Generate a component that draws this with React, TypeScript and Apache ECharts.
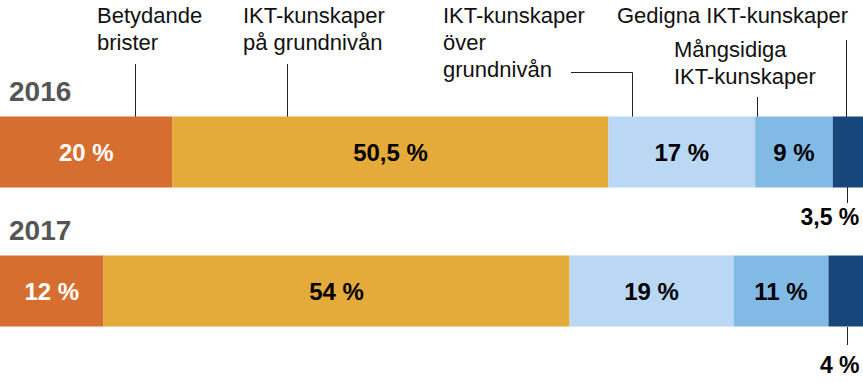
import React, { useEffect, useRef } from "react";
import * as echarts from "echarts";

const years = ["2016", "2017"];
const seriesNames = [
  "Betydande brister",
  "IKT-kunskaper på grundnivån",
  "IKT-kunskaper över grundnivån",
  "Mångsidiga IKT-kunskaper",
  "Gedigna IKT-kunskaper",
];
const values2016 = [20, 50.5, 17, 9, 3.5];
const values2017 = [12, 54, 19, 11, 4];
const colors = ["#D66E30", "#E4AB3A", "#BAD7F3", "#82BAE6", "#17467B"];
const labelColors = ["#FFFFFF", "#000000", "#000000", "#000000", "#000000"];

const FONT = "'Liberation Sans', Arial, Helvetica, sans-serif";

const fmt = (v: number) => String(v).replace(".", ",") + " %";

export default function App() {
  const ref = useRef<HTMLDivElement>(null);
  useEffect(() => {
    if (!ref.current) return;
    const chart = echarts.init(ref.current, undefined, { renderer: "svg" });
    const rows = [values2016, values2017];
    const series = seriesNames.map((name, si) => {
      const last = si === seriesNames.length - 1;
      return {
        name,
        type: "bar",
        stack: "total",
        barWidth: 71,
        itemStyle: { color: colors[si] },
        label: last
          ? {
              show: true,
              position: "bottom",
              fontFamily: FONT,
              fontWeight: "bold",
              fontSize: 23,
              color: "#000",
              formatter: (p: any) => fmt(p.value),
            }
          : {
              show: true,
              position: "inside",
              fontFamily: FONT,
              fontWeight: "bold",
              fontSize: 24,
              color: labelColors[si],
              formatter: (p: any) => fmt(p.value),
            },
        data: rows.map((r, ri) =>
          last
            ? {
                value: r[si],
                label: { offset: ri === 0 ? [-18, 13] : [-6, 22] },
              }
            : r[si]
        ),
      };
    });

    const textStyleTop = {
      fontFamily: FONT,
      fontSize: 22,
      lineHeight: 27,
      fill: "#111",
    };
    const line = (x1: number, y1: number, x2: number, y2: number) => ({
      type: "line",
      shape: { x1, y1, x2, y2 },
      style: { stroke: "#222", lineWidth: 1 },
      silent: true,
    });

    const graphic: any[] = [
      { type: "text", x: 97, y: 2, style: { ...textStyleTop, text: "Betydande\nbrister" } },
      { type: "text", x: 243, y: 2, style: { ...textStyleTop, text: "IKT-kunskaper\npå grundnivån" } },
      { type: "text", x: 443, y: 2, style: { ...textStyleTop, text: "IKT-kunskaper\növer\ngrundnivån" } },
      { type: "text", x: 617, y: 2, style: { ...textStyleTop, text: "Gedigna IKT-kunskaper" } },
      { type: "text", x: 674, y: 36, style: { ...textStyleTop, text: "Mångsidiga\nIKT-kunskaper" } },
      line(135.5, 64, 135.5, 117),
      line(287.5, 64, 287.5, 117),
      {
        type: "polyline",
        shape: { points: [[571, 72.5], [632.5, 72.5], [632.5, 117]] },
        style: { stroke: "#222", lineWidth: 1, fill: null },
        silent: true,
      },
      line(846.5, 40, 846.5, 117),
      line(757.5, 97, 757.5, 117),
      line(847.5, 187, 847.5, 203),
      line(847.5, 327, 847.5, 345),
      ...years.map((y, i) => ({
        type: "text",
        x: 9,
        y: 91 + i * 139,
        style: {
          text: y,
          fontFamily: FONT,
          fontWeight: "bold",
          fontSize: 28,
          fill: "#555555",
          verticalAlign: "middle",
        },
      })),
    ];

    chart.setOption({
      animation: false,
      grid: { left: 0, right: 0, top: 82.5, bottom: 21.5, containLabel: false },
      xAxis: { type: "value", min: 0, max: 100, show: false },
      yAxis: { type: "category", data: years, inverse: true, show: false },
      series,
      graphic,
    });
    return () => chart.dispose();
  }, []);
  return <div ref={ref} style={{ width: 863, height: 382, position: "absolute", left: 0, top: 0 }} />;
}
